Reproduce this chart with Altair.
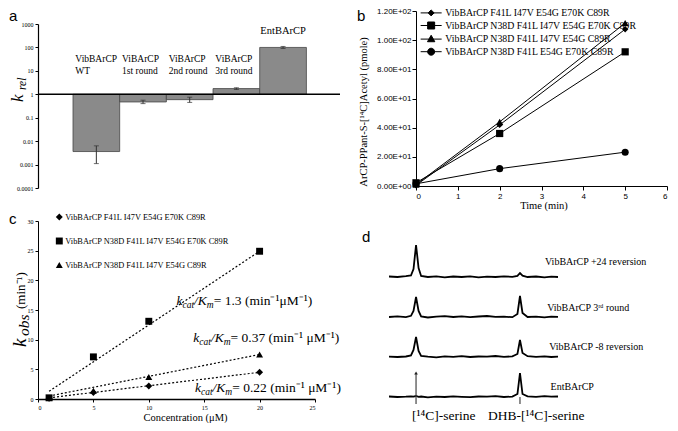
import altair as alt
import pandas as pd

# ---------------- data ----------------
# panel a : relative rates (log scale)
A_NAMES = ["VibBArCP\nWT", "ViBArCP\n1st round", "ViBArCP\n2nd round", "ViBArCP\n3rd round", "EntBArCP"]
A_KREL = [0.0036, 0.47, 0.59, 1.75, 100.0]
A_ERR_LO = [0.0011, 0.40, 0.45, 1.60, 90.0]
A_ERR_HI = [0.0063, 0.56, 0.75, 1.90, 110.0]
A_TICKS = [0.0001, 0.001, 0.01, 0.1, 1, 10, 100, 1000]

# panel b : time course
B_SERIES = [
    "VibBArCP F41L I47V E54G E70K C89R",
    "VibBArCP N38D F41L I47V E54G E70K C89R",
    "VibBArCP N38D F41L I47V E54G C89R",
    "VibBArCP N38D F41L E54G E70K C89R",
]
B_TIME = [0, 2, 5]
B_AMOUNT = [
    [0.5, 41.9, 107.5],
    [2.2, 36.0, 92.0],
    [1.0, 44.0, 111.7],
    [1.5, 11.9, 23.2],
]
B_XTICKS = [0, 1, 2, 3, 4, 5, 6]
B_YTICKS = [0, 20, 40, 60, 80, 100, 120]
B_XTITLE = "Time (min)"
B_YTITLE = "ArCP-PPant-S-[\u00b9\u2074C]Acetyl (pmole)"

# panel c : k_obs vs concentration
C_SERIES = B_SERIES[:3]
C_CONC = [1, 5, 10, 20]
C_KOBS = [
    [0.1, 1.1, 2.2, 4.5],
    [0.2, 7.1, 13.1, 24.9],
    [0.2, 1.4, 3.7, 7.5],
]
C_FIT_CONC = [1, 20]
C_FIT_KOBS = [
    [0.2, 4.5],
    [1.3, 24.9],
    [0.5, 7.5],
]
C_ANN_TAIL = ["= 0.22 (min\u207b\u00b9 \u03bcM\u207b\u00b9)", "= 1.3 (min\u207b\u00b9\u03bcM\u207b\u00b9)", " = 0.37 (min\u207b\u00b9 \u03bcM\u207b\u00b9)"]
C_XTICKS = [0, 5, 10, 15, 20, 25]
C_YTICKS = [0, 5, 10, 15, 20, 25, 30]
C_XTITLE = "Concentration (\u03bcM)"

# panel d : radio-HPLC traces
D_NAMES = ["VibBArCP +24 reversion", "VibBArCP 3\u02b3\u1d48 round", "VibBArCP -8 reversion", "EntBArCP"]
D_POS = [0, 5, 10, 13, 14.5, 16, 17.5, 19, 23, 28, 33, 38, 43, 48, 53, 58, 63, 68, 73, 76, 77.5, 79, 82, 87, 92, 96, 100]
D_SIGNAL = [
    [0.5, 0.0, 0.8, 1.5, 8.0, 32.0, 9.0, 1.0, 0.0, 0.6, -0.4, 0.5, 0.0, 0.7, -0.3, 0.4, 0.0, 0.6, 0.2, 1.2, 4.0, 1.3, 0.0, 0.5, -0.3, 0.4, 0.0],
    [0.0, 0.6, -0.2, 1.2, 6.0, 20.0, 6.0, 0.5, -0.5, 0.3, 0.8, 0.0, 0.6, -0.2, 0.5, 1.0, 0.2, 0.4, -0.2, 3.0, 21.0, 4.0, 0.0, 0.4, -0.4, 0.3, 0.2],
    [0.4, 0.0, 0.5, 1.5, 7.0, 20.0, 6.0, 1.0, 0.3, -0.3, 0.6, 0.2, 0.9, 0.0, 0.5, 0.3, 1.0, 0.2, 0.6, 3.0, 17.0, 4.0, 0.8, 0.2, 0.6, 0.0, 0.3],
    [0.5, 0.0, 0.3, 0.6, 0.4, 1.0, 0.2, 0.5, -0.3, 0.4, 0.0, 0.6, 0.2, -0.2, 0.5, 0.3, 0.8, 0.0, 0.4, 3.0, 24.0, 3.0, 0.6, 0.2, 0.8, 0.3, 0.5],
]
D_PEAK_NAMES = ["[\u00b9\u2074C]-serine", "DHB-[\u00b9\u2074C]-serine"]
D_PEAK_POS = [16, 77.5]

# ---------------- layout / style ----------------
SERIF = "Liberation Serif"
SANS = "Liberation Sans"
W, H = 662, 415
ONE = pd.DataFrame({"k": [0]})


def axis(**kw):
    d = dict(grid=False, domainColor="black", tickColor="black", labelColor="black", title=None)
    d.update(kw)
    return alt.Axis(**d)


ROMAN_W = {" ": .25, ".": .25, "(": .333, ")": .333, "=": .564, "m": .778, "i": .278, "n": .5,
           "\u03bc": .576, "M": .889, "\u207b": .35, "\u00b9": .3}
ITALIC_W = {"k": .444, "c": .444, "a": .5, "t": .278, "/": .278, "K": .667, "m": .722,
            "o": .5, "b": .5, "s": .389, "r": .389, "e": .444, "l": .278}


def _w(s, size, italic):
    t = ITALIC_W if italic else ROMAN_W
    return sum(t.get(ch, 0.5) for ch in s) * size


def seg(txt, size, italic, x, y, angle=0, align="left", baseline="alphabetic", font=SERIF):
    m = alt.Chart(ONE).mark_text(text=txt, font=font, fontSize=size,
                                 fontStyle="italic" if italic else "normal",
                                 align=align, baseline=baseline, angle=angle, color="black")
    return m.encode(x=alt.value(x), y=alt.value(y))


def rich(segments, x0, y0):
    out, pos = [], 0.0
    for txt, size, italic, shift in segments:
        out.append(seg(txt, size, italic, x0 + pos, y0 + shift))
        pos += _w(txt, size, italic)
    return out


# ---------------- panel a ----------------
a_df = pd.DataFrame({"name": A_NAMES, "krel": A_KREL, "lo": A_ERR_LO, "hi": A_ERR_HI, "idx": list(range(len(A_NAMES)))})
A_XDOM = [-0.75, 5.72]
xa = alt.Scale(domain=A_XDOM, range=[30, 332])
ya = alt.Scale(type="log", domain=[0.0001, 1000], range=[180, 16])
a_axis = axis(orient="left", offset=-30, values=A_TICKS, format="~g", labelFont=SERIF, labelFontSize=6,
              tickSize=3, labelPadding=2, domainWidth=1.2)
a_base = alt.Chart(a_df).transform_calculate(x0="datum.idx", x1="datum.idx + 1", xc="datum.idx + 0.5", one="1")
a_bars = a_base.mark_bar(fill="#8a8a8a", stroke="#454545", strokeWidth=0.8).encode(
    x=alt.X("x0:Q", scale=xa, axis=None), x2="x1:Q",
    y=alt.Y("krel:Q", scale=ya, axis=a_axis), y2="one:Q")
a_err = a_base.mark_rule(color="#333333", strokeWidth=1).encode(
    x=alt.X("xc:Q", scale=xa, axis=None), y=alt.Y("lo:Q", scale=ya, axis=a_axis), y2="hi:Q")
a_cap_lo = a_base.mark_tick(orient="horizontal", size=5, thickness=1, color="#333333").encode(
    x=alt.X("xc:Q", scale=xa, axis=None), y=alt.Y("lo:Q", scale=ya, axis=a_axis))
a_cap_hi = a_base.mark_tick(orient="horizontal", size=5, thickness=1, color="#333333").encode(
    x=alt.X("xc:Q", scale=xa, axis=None), y=alt.Y("hi:Q", scale=ya, axis=a_axis))
a_line = alt.Chart(pd.DataFrame({"x0": [A_XDOM[0]], "x1": [A_XDOM[1]], "one": [1]})).mark_rule(
    color="black", strokeWidth=1.5).encode(
    x=alt.X("x0:Q", scale=xa, axis=None), x2="x1:Q", y=alt.Y("one:Q", scale=ya, axis=a_axis))
a_lab = a_base.transform_filter("datum.idx < 4").transform_calculate(lx="datum.idx + 0.05", ly="50").mark_text(
    align="left", baseline="top", font=SERIF, fontSize=9.5, lineBreak="\n", lineHeight=11.5, color="black").encode(
    x=alt.X("lx:Q", scale=xa, axis=None), y=alt.Y("ly:Q", scale=ya, axis=a_axis), text="name:N")
a_lab2 = a_base.transform_filter("datum.idx == 4").transform_calculate(ly="800").mark_text(
    align="center", baseline="top", font=SERIF, fontSize=10.5, color="black").encode(
    x=alt.X("xc:Q", scale=xa, axis=None), y=alt.Y("ly:Q", scale=ya, axis=a_axis), text="name:N")
panel_a = alt.layer(a_bars, a_err, a_cap_lo, a_cap_hi, a_line, a_lab, a_lab2)

# ---------------- panel b ----------------
b_rows = []
for s, vals in zip(B_SERIES, B_AMOUNT):
    for t, v in zip(B_TIME, vals):
        b_rows.append({"series": s, "time": t, "amount": v})
b_df = pd.DataFrame(b_rows)
xb = alt.Scale(domain=[0, 6], range=[408, 659])
yb = alt.Scale(domain=[0, 120], range=[178, 3])
bx_axis = axis(orient="bottom", offset=178 - H, values=B_XTICKS, labelFont=SANS, labelFontSize=8, tickSize=4,
               labelPadding=2)
by_axis = axis(orient="left", offset=-408, values=B_YTICKS,
               labelExpr="replace(format(datum.value, '.2e'), 'e+', 'E+0')",
               labelFont=SANS, labelFontSize=8, tickSize=4, labelPadding=1)
XB = alt.X("time:Q", scale=xb, axis=bx_axis)
YB = alt.Y("amount:Q", scale=yb, axis=by_axis)
b_lines = alt.Chart(b_df).mark_line(color="black", strokeWidth=1).encode(x=XB, y=YB, detail="series:N")
B_SHAPES = ["diamond", "square", "triangle-up", "circle"]
B_SIZES = [40, 52, 52, 50]
b_points = []
for s, shp, sz in zip(B_SERIES, B_SHAPES, B_SIZES):
    b_points.append(alt.Chart(b_df).transform_filter(alt.FieldEqualPredicate(field="series", equal=s)).mark_point(
        shape=shp, size=sz, filled=True, color="black", opacity=1).encode(x=XB, y=YB))
B_LEGEND_PATHS = [
    "M-3,0H3M0,-0.85L0.85,0L0,0.85L-0.85,0Z",
    "M-3,0H3M-1,-1H1V1H-1Z",
    "M-3,0H3M0,-1.1L1.05,0.75H-1.05Z",
    "M-3,0H3M1,0A1,1,0,1,1,-1,0A1,1,0,1,1,1,0Z",
]
b_legend = alt.Chart(b_df).transform_filter("datum.time < 0").mark_point(
    filled=True, fill="black", stroke="black", strokeWidth=1, size=49, opacity=1).encode(
    x=XB, y=YB,
    shape=alt.Shape("series:N", scale=alt.Scale(domain=B_SERIES, range=B_LEGEND_PATHS),
                    legend=alt.Legend(title=None, orient="none", legendX=418.25, legendY=0, labelFont=SERIF,
                                      labelFontSize=9.8, labelColor="black", labelLimit=500, labelOffset=9.25,
                                      rowPadding=1.6, padding=0, symbolSize=49, symbolStrokeWidth=1)))
panel_b = alt.layer(b_lines, *b_points, b_legend)

# ---------------- panel c ----------------
c_rows, f_rows = [], []
for s, vals, fit in zip(C_SERIES, C_KOBS, C_FIT_KOBS):
    for c, v in zip(C_CONC, vals):
        c_rows.append({"series": s, "conc": c, "kobs": v})
    for c, v in zip(C_FIT_CONC, fit):
        f_rows.append({"series": s, "conc": c, "kobs": v})
c_df = pd.DataFrame(c_rows)
f_df = pd.DataFrame(f_rows)
xc = alt.Scale(domain=[0, 25], range=[30, 307])
yc = alt.Scale(domain=[0, 30], range=[391, 213])
cx_axis = axis(orient="bottom", offset=391 - H, values=C_XTICKS, labelFont=SERIF, labelFontSize=6, tickSize=3,
               labelPadding=2, domainWidth=1.5)
cy_axis = axis(orient="left", offset=-30, values=C_YTICKS, labelFont=SERIF, labelFontSize=6, tickSize=3,
               labelPadding=2)
XC = alt.X("conc:Q", scale=xc, axis=cx_axis)
YC = alt.Y("kobs:Q", scale=yc, axis=cy_axis)
c_fit = alt.Chart(f_df).mark_line(color="black", strokeWidth=1.2, strokeDash=[2, 2]).encode(
    x=XC, y=YC, detail="series:N")
c_pts = alt.Chart(c_df).mark_point(filled=True, color="black", size=48, opacity=1).encode(
    x=XC, y=YC,
    shape=alt.Shape("series:N", scale=alt.Scale(domain=C_SERIES, range=["diamond", "square", "triangle-up"]),
                    legend=alt.Legend(title=None, orient="none", legendX=46.8, legendY=204.5, labelFont=SERIF,
                                      labelFontSize=8.4, labelColor="black", labelLimit=500, labelOffset=1.5,
                                      rowPadding=11, padding=0, symbolSize=48)))
panel_c = alt.layer(c_fit, c_pts)

# ---------------- panel d ----------------
D_BASE = [120, 80, 40, 0]
d_rows = []
for name, base, sig in zip(D_NAMES, D_BASE, D_SIGNAL):
    for p, v in zip(D_POS, sig):
        d_rows.append({"trace": name, "pos": p, "yv": base + v})
d_df = pd.DataFrame(d_rows)
xd = alt.Scale(domain=[0, 100], range=[381, 550])
yd = alt.Scale(domain=[0, 160], range=[389, 229])
d_lines = alt.Chart(d_df).mark_line(color="black", strokeWidth=1.8).encode(
    x=alt.X("pos:Q", scale=xd, axis=None), y=alt.Y("yv:Q", scale=yd, axis=None), detail="trace:N")
D_LABEL_X = [92.3, 93.6, 94.8, 95.6]
D_LABEL_DY = [15, 9, 10, 10]
dl_df = pd.DataFrame({"name": D_NAMES, "lx": D_LABEL_X, "ly": [b + d for b, d in zip(D_BASE, D_LABEL_DY)]})
d_labels = alt.Chart(dl_df).mark_text(align="left", baseline="middle", font=SERIF, fontSize=10, color="black").encode(
    x=alt.X("lx:Q", scale=xd, axis=None), y=alt.Y("ly:Q", scale=yd, axis=None), text="name:N")
pk_df = pd.DataFrame({"name": D_PEAK_NAMES, "pos": D_PEAK_POS, "lx": [13.6, 58.6], "ly": [-19.2, -19.2],
                      "top": [24, 0], "bot": [-7, -7]})
d_marks = alt.Chart(pk_df).mark_rule(color="#444444", strokeWidth=1.2).encode(
    x=alt.X("pos:Q", scale=xd, axis=None), y=alt.Y("bot:Q", scale=yd, axis=None), y2="top:Q")
d_arrow = alt.Chart(pk_df).transform_filter("datum.top > 0").mark_point(
    shape="triangle-up", size=14, filled=True, color="#222222", opacity=1).encode(
    x=alt.X("pos:Q", scale=xd, axis=None), y=alt.Y("top:Q", scale=yd, axis=None))
d_peaklab = alt.Chart(pk_df).mark_text(align="left", baseline="middle", font=SERIF, fontSize=13.5, color="black").encode(
    x=alt.X("lx:Q", scale=xd, axis=None), y=alt.Y("ly:Q", scale=yd, axis=None), text="name:N")
panel_d = alt.layer(d_lines, d_labels, d_marks, d_arrow, d_peaklab)

# ---------------- annotations (titles, panel letters, equations) ----------------
extra = []
for letter, (lx, ly) in zip(["a", "b", "c", "d"], [(1, 1), (349, 1), (1, 204), (354, 222)]):
    extra.append(seg(letter, 15, False, lx, ly, baseline="top", font=SANS))
# axis titles
extra.append(seg(B_XTITLE, 10.5, False, 536, 198, align="center", baseline="middle"))
extra.append(seg(B_YTITLE, 10.5, False, 358.5, 104, angle=270, align="center"))
extra.append(seg(C_XTITLE, 10.5, False, 177.5, 410, align="center", baseline="middle"))
# rotated axis titles with italic subscripts (k_rel, k_obs)
extra += [seg("k", 17, True, 15, 94, 270), seg("rel", 11.5, True, 18, 82, 270)]
extra += [seg("k", 19, True, 18, 339, 270), seg("obs", 15.5, True, 21, 328, 270),
          seg("(min\u207b\u00b9)", 13, False, 17, 301, 270)]
ANN_POS = [(187, 384), (168.5, 297), (185.3, 334)]
for tail, (x0, y0) in zip(C_ANN_TAIL, ANN_POS):
    extra += rich([("k", 13.5, True, 0), ("cat", 9.5, True, 3), ("/K", 13.5, True, 0), ("m", 9.5, True, 3),
                   (tail, 13.5, False, 0)], x0, y0)

chart = alt.layer(panel_a, panel_b, panel_c, panel_d, *extra).resolve_scale(
    x="independent", y="independent", shape="independent").properties(
    width=W, height=H, autosize=alt.AutoSizeParams(type="none"), padding=0, background="white"
).configure_view(stroke=None)

chart.save("out.html", embed_options={"renderer": "svg", "actions": False})
